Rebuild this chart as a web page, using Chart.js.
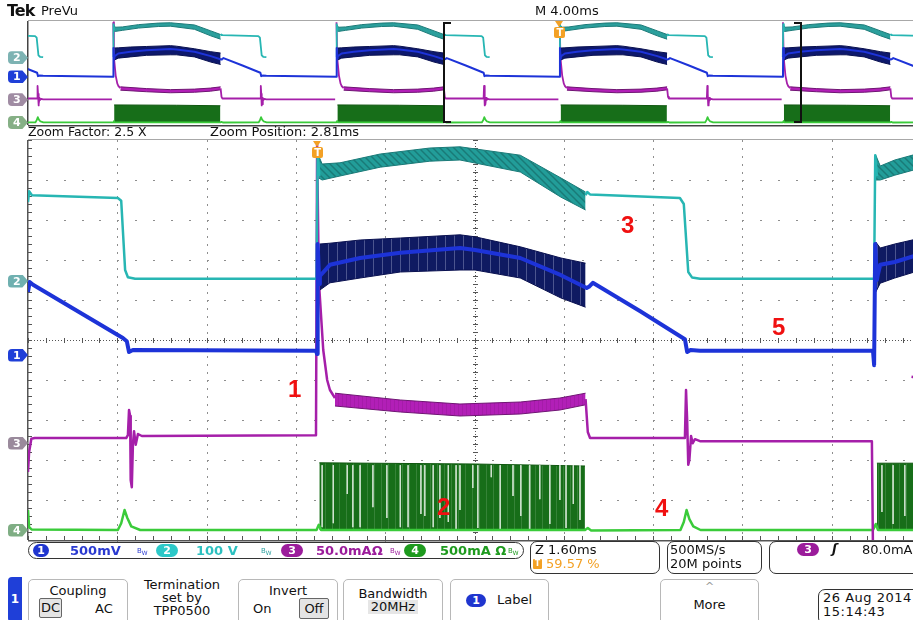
<!DOCTYPE html>
<html>
<head>
<meta charset="utf-8">
<script src="https://cdn.jsdelivr.net/npm/chart.js@4.4.1/dist/chart.umd.min.js"></script>
<style>
body{margin:0;width:913px;height:620px;overflow:hidden;background:#fff;position:relative;font-family:"DejaVu Sans",sans-serif;color:#111}
canvas{position:absolute;left:0}
.t{position:absolute;white-space:nowrap;font-size:13px;line-height:15px}
.tag{position:absolute;left:8px;width:20px;height:13px;color:#fff;font:bold 11px "DejaVu Sans";line-height:13px;padding-left:5px;box-sizing:border-box;border-radius:4px 0 0 4px;clip-path:polygon(0 0,72% 0,100% 50%,72% 100%,0 100%)}
.trig{position:absolute;width:11px;height:11px;background:#f3a125;border-radius:2px;color:#fff;font:bold 10px "DejaVu Sans";line-height:11px;text-align:center}
.trig:before{content:"";position:absolute;left:1px;top:-6px;border-left:4.5px solid transparent;border-right:4.5px solid transparent;border-top:6px solid #f3a125}
.red{position:absolute;color:#f01010;font:bold 24px "Liberation Sans",Arial,sans-serif}
.pill{position:absolute;height:13px;border-radius:7px;color:#fff;font:bold 11px "DejaVu Sans";line-height:13px;text-align:center}
.box{position:absolute;border:1px solid #333;border-radius:7px;box-sizing:border-box}
.btn{position:absolute;top:579px;height:50px;border:1.5px solid #b8b8b8;border-radius:5px;box-sizing:border-box;background:#fff}
.ctr{position:absolute;left:0;right:0;text-align:center;white-space:nowrap;font-size:13px}
.bw{position:absolute;font-size:7px;line-height:8px}
</style>
</head>
<body>
<canvas id="overview" width="921" height="130" style="top:0"></canvas>
<canvas id="scope" width="921" height="410" style="top:135px"></canvas>

<div class="t" style="left:7px;top:1px;font:bold 16px 'DejaVu Sans';letter-spacing:-1px">Tek</div>
<div class="t" style="left:41px;top:3px">PreVu</div>
<div class="t" style="left:535px;top:3px">M 4.00ms</div>
<div class="t" style="left:28px;top:124px;font-size:12.5px">Zoom Factor: 2.5 X</div>
<div class="t" style="left:210px;top:124px">Zoom Position: 2.81ms</div>

<div class="tag" id="ov2" style="background:#7db3b3">2</div>
<div class="tag" id="ov1" style="background:#1f3fd8">1</div>
<div class="tag" id="ov3" style="background:#a08ca3">3</div>
<div class="tag" id="ov4" style="background:#86b086">4</div>
<div class="tag" id="mn2" style="background:#6fb0b0">2</div>
<div class="tag" id="mn1" style="background:#1f3fd8">1</div>
<div class="tag" id="mn3" style="background:#9a8a9c">3</div>
<div class="tag" id="mn4" style="background:#7fae84">4</div>
<div class="trig" id="ovT">T</div>
<div class="trig" id="mnT">T</div>

<div class="red" style="left:288px;top:375px">1</div>
<div class="red" style="left:437px;top:493px">2</div>
<div class="red" style="left:621px;top:211px">3</div>
<div class="red" style="left:655px;top:494px">4</div>
<div class="red" style="left:772px;top:313px">5</div>

<!-- channel readouts -->
<div class="box" style="left:28px;top:542px;width:496px;height:17px;border-radius:9px"></div>
<div class="pill" style="left:33px;top:544px;width:16px;background:#1f35cf">1</div>
<div class="t" style="left:70px;top:543px;font-weight:bold;color:#2a3ad0">500mV</div>
<div class="bw" style="left:137px;top:547px;color:#2a3ad0">B<sub>W</sub></div>
<div class="pill" style="left:156px;top:544px;width:22px;background:#2cc8c8">2</div>
<div class="t" style="left:196px;top:543px;font-weight:bold;color:#2cc0c0">100 V</div>
<div class="bw" style="left:261px;top:547px;color:#2a9f9f">B<sub>W</sub></div>
<div class="pill" style="left:281px;top:544px;width:22px;background:#9b1c9b">3</div>
<div class="t" style="left:316px;top:543px;font-weight:bold;color:#9b1c9b">50.0mAΩ</div>
<div class="bw" style="left:390px;top:547px;color:#9b1c9b">B<sub>W</sub></div>
<div class="pill" style="left:404px;top:544px;width:22px;background:#1e9a1e">4</div>
<div class="t" style="left:440px;top:543px;font-weight:bold;color:#1e9a1e">500mA Ω</div>
<div class="bw" style="left:508px;top:547px;color:#1e9a1e">B<sub>W</sub></div>

<div class="box" style="left:530px;top:541px;width:130px;height:33px"></div>
<div class="t" style="left:535px;top:542px">Z 1.60ms</div>
<div style="position:absolute;left:533px;top:559px;width:9px;height:10px;background:#f3a125;color:#fff;font:bold 8px 'DejaVu Sans';text-align:center;line-height:10px;border-radius:1px">T</div>
<div class="t" style="left:546px;top:556px;color:#f3a125">59.57 %</div>
<div class="box" style="left:667px;top:541px;width:95px;height:33px"></div>
<div class="t" style="left:670px;top:542px">500MS/s</div>
<div class="t" style="left:670px;top:556px">20M points</div>
<div class="box" style="left:769px;top:541px;width:160px;height:33px"></div>
<div class="pill" style="left:797px;top:543px;width:22px;background:#9b1c9b">3</div>
<div class="t" style="left:832px;top:541px;font-weight:bold;font-style:italic">ʃ</div>
<div class="t" style="left:862px;top:542px">80.0mA</div>

<!-- menu -->
<div style="position:absolute;left:8px;top:577px;width:14px;height:45px;background:#1f3fd8;border-radius:4px 0 0 4px;color:#fff;font:bold 12px 'DejaVu Sans';line-height:45px;text-align:center">1</div>
<div class="btn" style="left:28px;width:100px">
  <div class="ctr" style="top:3px">Coupling</div>
  <div style="position:absolute;left:10px;top:18px;width:21px;height:18px;border:1px solid #666;background:#e4e4e4;border-radius:2px;font-size:13px;line-height:18px;text-align:center">DC</div>
  <div class="t" style="left:66px;top:21px">AC</div>
</div>
<div class="ctr" style="position:absolute;left:132px;width:100px;right:auto;top:578px;line-height:13px">Termination<br>set by<br>TPP0500</div>
<div class="btn" style="left:238px;width:100px">
  <div class="ctr" style="top:3px">Invert</div>
  <div class="t" style="left:14px;top:21px">On</div>
  <div style="position:absolute;left:60px;top:18px;width:28px;height:19px;border:1px solid #666;background:#e4e4e4;border-radius:2px;font-size:13px;line-height:19px;text-align:center">Off</div>
</div>
<div class="btn" style="left:343px;width:100px">
  <div class="ctr" style="top:6px">Bandwidth</div>
  <div style="position:absolute;left:24px;top:20px;width:50px;height:14px;background:#e6e6e6;font-size:13px;line-height:14px;text-align:center">20MHz</div>
</div>
<div class="btn" style="left:450px;width:99px">
  <div class="pill" style="left:15px;top:14px;width:20px;background:#1f35cf">1</div>
  <div class="t" style="left:46px;top:12px">Label</div>
</div>
<div class="btn" style="left:660px;width:99px">
  <div class="ctr" style="top:0px;color:#999;font-size:11px">^</div>
  <div class="ctr" style="top:17px">More</div>
</div>
<div class="box" style="left:818px;top:589px;width:110px;height:36px"></div>
<div class="t" style="left:823px;top:590px;letter-spacing:0.5px">26 Aug 2014</div>
<div class="t" style="left:823px;top:604px;letter-spacing:0.5px">15:14:43</div>

<script>
// timebase (ms) and zoom settings
const mainPerDiv = 4.0;
const zoomPerDiv = 1.6;
const zoomPosition = 2.81;
const triggerPct = 59.57;

// channel ground levels, in screen divisions
const ch1Ground = -0.375, ch2Ground = 1.475, ch3Ground = -2.575, ch4Ground = -4.75;

// ch2 (cyan): [time ms, divisions]; null = gap
const ch2Trace = [[-5.19,3.45],[-5.17,3.72],[-5.12,3.62],[-3.58,3.55],[-3.52,3.48],[-3.45,1.75],[-3.40,1.57],[-3.27,1.53],[-0.02,1.53],[0.00,4.70],[0.03,4.10],null,
  [4.80,3.62],[4.83,3.70],[4.88,3.64],[6.49,3.55],[6.56,3.40],[6.64,1.70],[6.71,1.56],[6.85,1.53],[9.97,1.53],[9.99,4.62],[10.02,4.10],null];
const ch2BandHi = [[0.02,4.60],[0.08,4.40],[0.40,4.43],[1.12,4.65],[2.01,4.80],[2.55,4.83],[3.63,4.62],[4.36,4.05],[4.80,3.70]];
const ch2BandLo = [[0.02,4.05],[0.08,4.00],[0.40,4.10],[1.12,4.32],[2.01,4.47],[2.55,4.50],[3.63,4.20],[4.36,3.57],[4.80,3.25]];
const ch2NextHi = [[10.00,4.62],[10.08,4.35],[10.34,4.50],[10.81,4.68]];
const ch2NextLo = [[10.00,4.00],[10.08,4.00],[10.34,4.12],[10.81,4.30]];

// ch1 (blue)
const ch1Trace = [[-5.19,1.20],[-5.16,1.45],[-5.10,1.38],[-3.49,0.05],[-3.42,-0.03],[-3.38,-0.30],[-3.31,-0.25],[-0.03,-0.27],[-0.01,-0.35],[0.00,2.40],[0.03,1.40],
  [0.04,1.60],[0.22,1.88],[0.76,2.05],[1.48,2.18],[2.55,2.30],[2.82,2.25],[3.63,2.05],[4.36,1.62],[4.82,1.30],
  [4.86,1.33],[4.93,1.43],[5.78,0.72],[6.58,0.02],[6.62,-0.30],[6.68,-0.25],[6.85,-0.27],[9.95,-0.27],[9.97,-0.63],[9.99,2.40],[10.02,1.50],
  [10.04,1.65],[10.08,1.88],[10.34,1.95],[10.81,2.15]];
const ch1BandHi = [[0.04,2.40],[0.22,2.42],[0.76,2.50],[1.48,2.55],[2.55,2.63],[2.82,2.58],[3.63,2.33],[4.36,2.05],[4.80,1.92]];
const ch1BandLo = [[0.04,1.25],[0.22,1.43],[0.76,1.55],[1.48,1.70],[2.55,1.75],[2.82,1.75],[3.63,1.55],[4.36,1.05],[4.80,0.82]];
const ch1NextHi = [[10.00,2.45],[10.08,2.30],[10.34,2.40],[10.81,2.55]];
const ch1NextLo = [[10.00,1.20],[10.08,1.42],[10.34,1.55],[10.81,1.75]];

// ch3 (magenta)
const ch3Trace = [[-5.19,-3.30],[-5.17,-2.80],[-5.13,-2.47],[-5.07,-2.45],[-3.43,-2.45],[-3.40,-2.38],[-3.38,-1.75],[-3.36,-1.90],[-3.35,-3.50],[-3.33,-3.68],[-3.31,-2.60],[-3.29,-2.28],[-3.26,-2.62],[-3.22,-2.35],[-3.15,-2.40],
  [-0.03,-2.38],[-0.01,4.88],[0.02,1.50],[0.10,-0.25],[0.17,-1.00],[0.22,-1.25],[0.31,-1.45],null,
  [4.80,-1.48],[4.84,-2.30],[4.88,-2.45],[6.58,-2.45],[6.60,-1.25],[6.62,-2.00],[6.64,-3.12],[6.66,-3.00],[6.69,-2.40],[6.72,-2.58],[6.76,-2.48],[6.85,-2.53],[9.93,-2.53],[9.95,-5.30],null,
  [10.64,-0.92],[10.81,-0.96]];
const ch3BandHi = [[0.31,-1.33],[1.48,-1.50],[2.55,-1.60],[3.63,-1.55],[4.34,-1.45],[4.80,-1.33]];
const ch3BandLo = [[0.31,-1.65],[1.48,-1.80],[2.55,-1.90],[3.63,-1.85],[4.34,-1.75],[4.80,-1.62]];

// ch4 (green)
const ch4Trace = [[-5.19,-4.25],[-5.17,-4.68],[-5.12,-4.74],[-3.58,-4.75],[-3.52,-4.58],[-3.46,-4.25],[-3.41,-4.45],[-3.34,-4.66],[-3.18,-4.75],[-0.02,-4.75],[0.02,-4.62],[0.06,-4.75],
  [4.79,-4.75],[4.84,-4.70],[4.90,-4.76],[6.50,-4.75],[6.56,-4.55],[6.61,-4.25],[6.66,-4.48],[6.73,-4.66],[6.86,-4.75],[9.95,-4.75],[10.00,-4.60],[10.04,-4.75],[10.81,-4.75]];
const ch4BlockTop = [[0.03,-3.07],[2.82,-3.10],[4.79,-3.15]];
const ch4NextTop = [[10.02,-3.08],[10.81,-3.08]];
const ch4GapTimes = [0.08,0.28,0.53,0.63,0.76,0.99,1.24,1.48,1.62,1.85,1.92,2.07,2.19,2.34,2.48,2.55,2.78,2.87,3.11,3.27,3.50,3.64,3.80,3.98,4.16,4.34,4.45,4.58,4.70,10.11,10.31,10.52];
const ch4GapDepths = [-4.68,-4.58,-3.85,-4.68,-4.68,-4.18,-4.45,-4.68,-4.68,-4.35,-4.40,-4.68,-4.45,-4.55,-4.75,-4.25,-3.70,-4.70,-3.43,-4.75,-3.90,-4.40,-4.75,-3.98,-4.60,-4.00,-4.70,-4.10,-4.50,-4.30,-4.60,-4.40];

// trigger edges visible in the 40 ms record
const ovEdges = [-30, -20, -10, 0, 10];

const mainMin = zoomPosition - 5 * zoomPerDiv, mainMax = zoomPosition + 5 * zoomPerDiv;
const ovMin = -triggerPct / 100 * 10 * mainPerDiv, ovMax = ovMin + 10 * mainPerDiv;

function toXY(pts, shift) {
    shift = shift || 0;
    let lastX = 0;
    return pts.map(p => {
        if (!p) return { x: lastX, y: null };
        lastX = p[0] + shift;
        return { x: lastX, y: p[1] };
    });
}
function line(pts, color, width, order, extra, shift) {
    return Object.assign({
        data: toXY(pts, shift), borderColor: color, borderWidth: width, pointRadius: 0,
        tension: 0, fill: false, order: order, spanGaps: false, borderJoinStyle: 'round'
    }, extra || {});
}
function band(list, hi, lo, edge, fillColor, order, shift, w) {
    list.push(line(hi, edge, w, order, null, shift));
    list.push(line(lo, edge, w, order, { fill: '-1', backgroundColor: fillColor }, shift));
}
function gapPoints(times, depths, top) {
    const pts = [];
    times.forEach((t, i) => { pts.push([t, top], [t, depths[i]], null); });
    return pts;
}
function period(pts) {
    return pts.filter(p => p === null || (p[0] >= -0.02 && p[0] < 9.94));
}

// textured fills for the noisy bands
function pattern(w, h, bg, paint) {
    const c = document.createElement('canvas');
    c.width = w; c.height = h;
    const g = c.getContext('2d');
    g.fillStyle = bg; g.fillRect(0, 0, w, h);
    paint(g);
    return g.createPattern(c, 'repeat');
}
const cyanTex = pattern(7, 7, '#229d99', g => {
    g.strokeStyle = '#1a7a77'; g.lineWidth = 1.4;
    g.beginPath(); g.moveTo(-1, -1); g.lineTo(8, 8); g.moveTo(-8, -1); g.lineTo(1, 8); g.moveTo(6, -1); g.lineTo(15, 8); g.stroke();
});
const blueTex = pattern(9, 4, '#0f1a62', g => {
    g.fillStyle = 'rgba(150,158,200,0.45)'; g.fillRect(4, 0, 1, 4);
});
const greenTex = pattern(7, 4, '#176e19', g => {
    g.fillStyle = 'rgba(200,225,200,0.18)'; g.fillRect(3, 0, 1, 4);
});
const magTex = pattern(4, 3, '#b21fb7', g => {
    g.fillStyle = 'rgba(120,20,125,0.22)'; g.fillRect(2, 0, 1, 3);
});

// graticule, zoom brackets
const graticule = {
    id: 'graticule',
    beforeDatasetsDraw(chart, args, opts) {
        const { ctx, chartArea: a, scales: { x, y } } = chart;
        ctx.save();
        if (opts.grid) {
            const dxs = [], dys = [];
            for (let i = 0; i <= 10; i++) dxs.push(x.getPixelForValue(x.min + i * (x.max - x.min) / 10));
            for (let i = 0; i <= 10; i++) dys.push(y.getPixelForValue(y.max - i));
            const mx = (dxs[1] - dxs[0]) / 5, my = (dys[1] - dys[0]) / 5;
            ctx.fillStyle = '#8e8e8e';
            for (let i = 1; i < 10; i++) {
                if (i === 5) continue;
                const px = Math.round(dxs[i]);
                for (let k = 0; k <= 50; k++) ctx.fillRect(px, Math.round(a.top + k * my), 1, 2);
                const py = Math.round(dys[i]);
                for (let k = 0; k <= 50; k++) ctx.fillRect(Math.round(a.left + k * mx), py, 2, 1);
            }
            // center cross with minor ticks
            ctx.fillStyle = '#555';
            const cx = Math.round(dxs[5]), cy = Math.round(dys[5]);
            for (let py = a.top; py < a.bottom; py += 3) ctx.fillRect(cx, py, 1, 1);
            for (let px = a.left; px < a.right; px += 3) ctx.fillRect(px, cy, 1, 1);
            for (let k = 0; k <= 50; k++) {
                ctx.fillRect(cx - 2, Math.round(a.top + k * my), 5, 1);
                ctx.fillRect(Math.round(a.left + k * mx), cy - 2, 1, 5);
                ctx.fillRect(Math.round(a.left), Math.round(a.top + k * my), 4, 1);
                ctx.fillRect(Math.round(a.left + k * mx), a.bottom - 4, 1, 4);
            }
            ctx.fillStyle = '#a8a8a8';
            ctx.fillRect(a.left, a.top - 1, a.right - a.left, 1);
            ctx.fillStyle = '#555';
            ctx.fillRect(a.left - 1, a.top, 1.5, a.bottom - a.top);
            ctx.fillRect(a.left, a.bottom, a.right - a.left, 1.5);
        } else {
            ctx.fillStyle = '#a8a8a8';
            ctx.fillRect(a.left, a.top - 1, a.right - a.left, 1);
            ctx.fillStyle = '#444';
            ctx.fillRect(a.left - 1, a.top, 1.5, a.bottom - a.top);
            ctx.fillRect(a.left, a.bottom, a.right - a.left, 1.5);
        }
        ctx.restore();
    },
    afterDatasetsDraw(chart, args, opts) {
        if (!opts.window) return;
        const { ctx, chartArea: a, scales: { x } } = chart;
        ctx.save();
        ctx.strokeStyle = '#111';
        ctx.lineWidth = 2;
        const l = Math.round(x.getPixelForValue(opts.window[0])), r = Math.round(x.getPixelForValue(opts.window[1]));
        ctx.beginPath();
        ctx.moveTo(l + 7, a.top + 2); ctx.lineTo(l, a.top + 2); ctx.lineTo(l, a.bottom - 3); ctx.lineTo(l + 7, a.bottom - 3);
        ctx.moveTo(r - 7, a.top + 2); ctx.lineTo(r, a.top + 2); ctx.lineTo(r, a.bottom - 3); ctx.lineTo(r - 7, a.bottom - 3);
        ctx.stroke();
        ctx.restore();
    }
};

function options(min, max, pad, gopts) {
    return {
        responsive: false, animation: false, events: [],
        layout: { padding: pad },
        plugins: { legend: { display: false }, tooltip: { enabled: false }, graticule: gopts },
        scales: {
            x: { type: 'linear', min: min, max: max, display: false },
            y: { min: -5, max: 5, display: false }
        }
    };
}

// colours
const cyanLine = '#27b6b3', cyanBand = '#2b9f9c', cyanEdge = '#1b7a78';
const blueLine = '#1d33d8', blueBand = '#0d186c', blueEdge = '#0a1150';
const magLine = '#a51fa9', magBand = '#b21fb7', magEdge = '#6f1573';
const grnLine = '#3acb3a', grnBlock = '#176e19', grnEdge = '#0f560f';

function buildSets(shift, textured) {
    const s = [];
    s.push(line(ch4BlockTop, grnEdge, 1, 12, { fill: { value: ch4Ground }, backgroundColor: textured ? greenTex : grnBlock }, shift));
    if (textured) s.push(line(gapPoints(ch4GapTimes, ch4GapDepths, -3.13), 'rgba(215,232,215,0.85)', 1, 11, null, shift));
    band(s, ch3BandHi, ch3BandLo, magEdge, textured ? magTex : magBand, 8, shift, 1);
    band(s, ch2BandHi, ch2BandLo, cyanEdge, textured ? cyanTex : cyanBand, 6, shift, 1);
    band(s, ch1BandHi, ch1BandLo, blueEdge, textured ? blueTex : blueBand, 4, shift, 1);
    return s;
}

// main (zoomed) view
const mainSets = buildSets(0, true);
mainSets.push(line(ch4NextTop, grnEdge, 1, 12, { fill: { value: ch4Ground }, backgroundColor: greenTex }));
band(mainSets, ch2NextHi, ch2NextLo, cyanEdge, cyanTex, 6, 0, 1);
band(mainSets, ch1NextHi, ch1NextLo, blueEdge, blueTex, 4, 0, 1);
mainSets.push(line(ch4Trace, grnLine, 2.5, 9));
mainSets.push(line(ch3Trace, magLine, 2.5, 7));
mainSets.push(line(ch2Trace, cyanLine, 2.5, 5));
mainSets.push(line(ch1Trace, blueLine, 4, 2));

const scope = new Chart(document.getElementById('scope'), {
    type: 'line',
    data: { datasets: mainSets },
    options: options(mainMin, mainMax, { left: 28, top: 5, bottom: 5, right: 0 }, { grid: true }),
    plugins: [graticule]
});

// record overview (PreVu)
const ovSets = [];
const ov1 = [], ov2 = [], ov3 = [], ov4 = [];
ovEdges.forEach(e => {
    buildSets(e, false).forEach(d => ovSets.push(d));
    period(ch1Trace).forEach(p => ov1.push(p && [p[0] + e, p[1]]));
    period(ch2Trace).forEach(p => ov2.push(p && [p[0] + e, p[1]]));
    period(ch3Trace).forEach(p => ov3.push(p && [p[0] + e, p[1]]));
    period(ch4Trace).forEach(p => ov4.push(p && [p[0] + e, p[1]]));
});
ovSets.push(line(ov4, grnLine, 1.8, 9));
ovSets.push(line(ov3, magLine, 1.8, 7));
ovSets.push(line(ov2, cyanLine, 1.8, 5));
ovSets.push(line(ov1, blueLine, 2, 2));

const overview = new Chart(document.getElementById('overview'), {
    type: 'line',
    data: { datasets: ovSets },
    options: options(ovMin, ovMax, { left: 28, top: 21, bottom: 5, right: 0 }, { grid: false, window: [mainMin, mainMax] }),
    plugins: [graticule]
});

// channel tags and trigger markers follow the scales
function placeTag(id, chart, level) {
    const el = document.getElementById(id);
    el.style.top = (chart.canvas.offsetTop + chart.scales.y.getPixelForValue(level) - 6.5) + 'px';
}
placeTag('ov1', overview, ch1Ground); placeTag('ov2', overview, ch2Ground);
placeTag('ov3', overview, ch3Ground); placeTag('ov4', overview, ch4Ground);
placeTag('mn1', scope, ch1Ground); placeTag('mn2', scope, ch2Ground);
placeTag('mn3', scope, ch3Ground); placeTag('mn4', scope, ch4Ground);
function placeTrig(id, chart, dy) {
    const el = document.getElementById(id);
    el.style.left = (chart.scales.x.getPixelForValue(0) - 5.5) + 'px';
    el.style.top = (chart.canvas.offsetTop + chart.chartArea.top + dy) + 'px';
}
placeTrig('ovT', overview, 6);
placeTrig('mnT', scope, 7);
</script>
</body>
</html>
